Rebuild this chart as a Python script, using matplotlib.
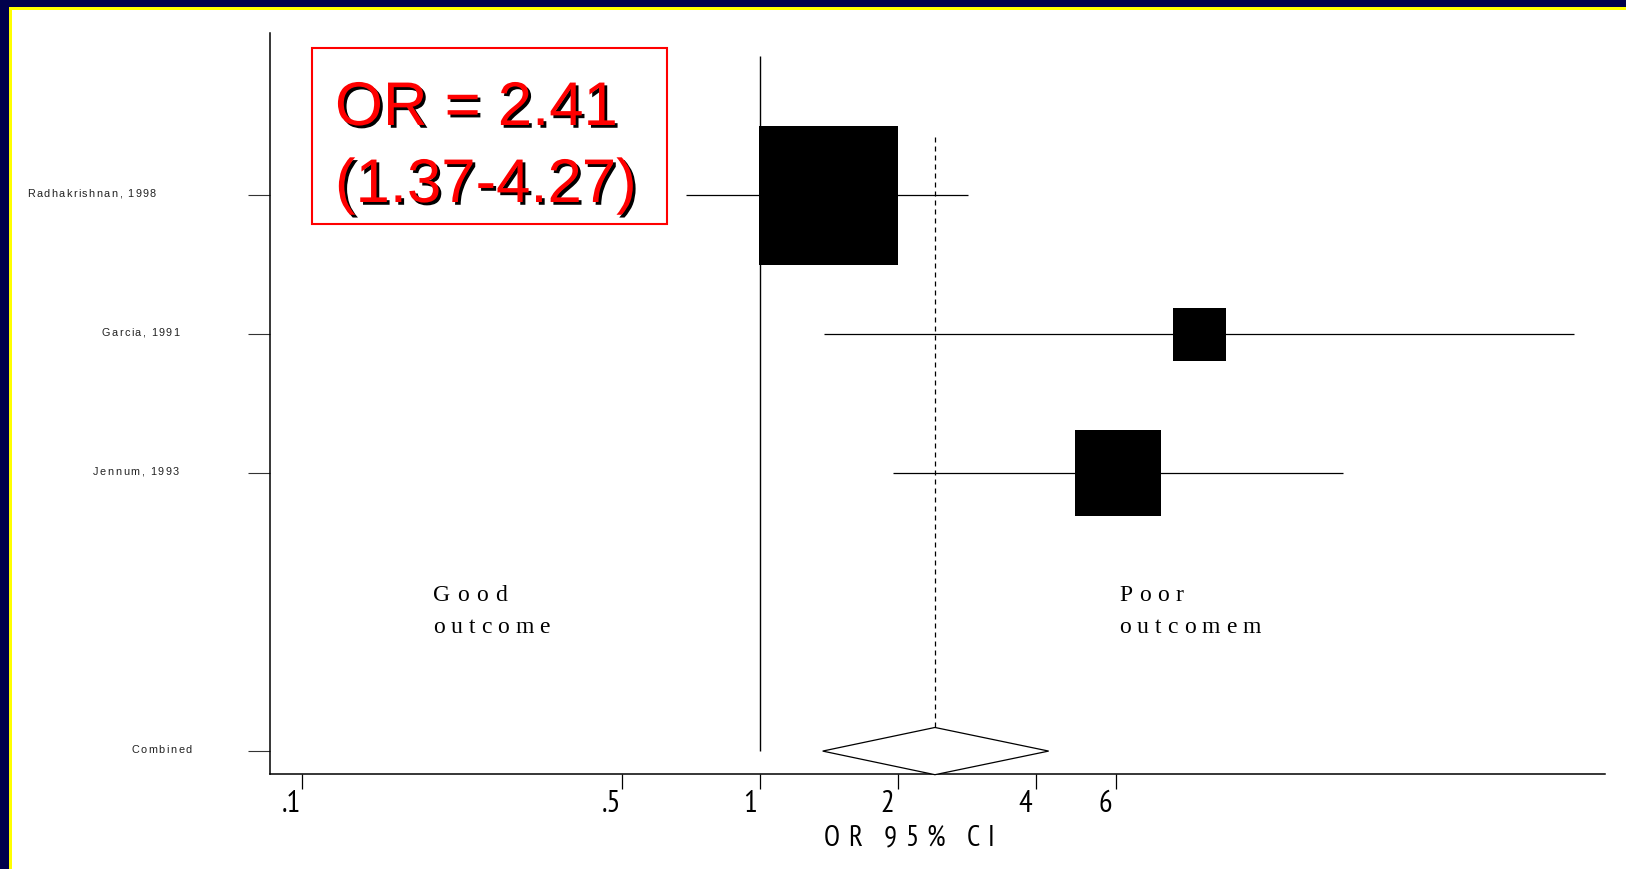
import numpy as np
import matplotlib
matplotlib.use("Agg")
import matplotlib.pyplot as plt
from matplotlib import font_manager, patches, transforms, patheffects
from matplotlib.font_manager import FontProperties
from matplotlib.ticker import NullLocator

# ---------------- data ----------------
studies = ["Radhakrishnan, 1998", "Garcia, 1991", "Jennum, 1993"]
or_est = [1.41, 9.1, 6.05]
ci_low = [0.69, 1.38, 1.95]
ci_high = [2.85, 60.0, 18.8]
weights = [65.4, 9.5, 25.1]
study_rows = [5, 4, 3]

combined_label = "Combined"
combined_or = 2.41
combined_low = 1.37
combined_high = 4.27
combined_row = 1

xticks = [0.1, 0.5, 1, 2, 4, 6]
xtick_labels = [".1", ".5", "1", "2", "4", "6"]
x_title = "OR 95% CI"
box_lines = ["OR = 2.41", "(1.37-4.27)"]

# ---------------- layout ----------------
W, H = 1626, 870
names = {f.name for f in font_manager.fontManager.ttflist}
sans = "Liberation Sans" if "Liberation Sans" in names else "DejaVu Sans"
serif = "Liberation Serif" if "Liberation Serif" in names else "DejaVu Serif"
narrow_file = None
for f in font_manager.fontManager.ttflist:
    fn = f.fname.lower()
    if ("sansnarrow-regular" in fn or "sans-narrow" in fn and "bold" not in fn
            and "italic" not in fn):
        narrow_file = f.fname
        break
if narrow_file is None:
    for f in font_manager.fontManager.ttflist:
        if f.fname.endswith("DejaVuSansCondensed.ttf"):
            narrow_file = f.fname
            break


def narrow_prop(size):
    if narrow_file:
        return FontProperties(fname=narrow_file, size=size)
    return FontProperties(family=sans, size=size)


fig = plt.figure(figsize=(W / 100, H / 100), dpi=100, facecolor="white")
ax = fig.add_axes([270 / W, 1 - 775 / H, (1605 - 270) / W, (775 - 34) / H])
ax.set_xscale("log")
ax.set_xlim(0.085, 70.1)
ax.set_ylim(0.835, 6.169)
ident = transforms.IdentityTransform()

# border
navy, yellow = "#00004C", "#FFFF00"
for r in [patches.Rectangle((0, 0), 9, H), patches.Rectangle((0, H - 8), W, 8)]:
    r.set_transform(ident); r.set_facecolor(navy); r.set_edgecolor("none")
    fig.add_artist(r)
for r in [patches.Rectangle((9, 0), 2.5, H - 8), patches.Rectangle((9, H - 10.5), W - 9, 2.5)]:
    r.set_transform(ident); r.set_facecolor(yellow); r.set_edgecolor("none")
    fig.add_artist(r)

# study CIs and boxes
ax.hlines(study_rows, ci_low, ci_high, color="black", lw=0.9, zorder=2)
side_px = 17.19 * np.sqrt(np.array(weights))
ax.scatter(or_est, study_rows, s=(side_px * 0.72) ** 2, marker="s", c="black",
           linewidths=0, zorder=3)

# null line and combined line
ax.vlines(1, combined_row, 6.0, color="black", lw=1.0, zorder=1)
ax.vlines(combined_or, combined_row + 0.17, 5.45, color="black", lw=0.9,
          linestyles=(0, (4, 3.2)), zorder=1)
ax.fill([combined_low, combined_or, combined_high, combined_or],
        [combined_row, combined_row + 0.17, combined_row, combined_row - 0.17],
        facecolor="white", edgecolor="black", lw=0.9, zorder=3, clip_on=False)

# axes styling
for s in ["top", "right"]:
    ax.spines[s].set_visible(False)
for s in ["left", "bottom"]:
    ax.spines[s].set_linewidth(1.1)
    ax.spines[s].set_color("black")
ax.set_xticks(xticks)
ax.set_xticklabels([])
ax.xaxis.set_minor_locator(NullLocator())
ax.tick_params(axis="x", length=10.8, width=0.9, direction="out")
ax.set_yticks(study_rows + [combined_row])
ax.set_yticklabels([])
ax.tick_params(axis="y", length=15.8, width=0.8, direction="out", color="#333333")

off = transforms.ScaledTranslation(-10.5 / 100, -15 / 100, fig.dpi_scale_trans)
for v, lab in zip(xticks, xtick_labels):
    ax.text(v, 0, lab, transform=ax.get_xaxis_transform() + off, ha="center", va="top",
            fontproperties=narrow_prop(22), color="black")

renderer = fig.canvas.get_renderer()


def char_widths(s, prop):
    base = renderer.get_text_width_height_descent("||", prop, ismath=False)[0]
    return [renderer.get_text_width_height_descent("|" + c + "|", prop, ismath=False)[0] - base
            for c in s]


def spaced(s, x_left, x_right, y_disp, prop, color="black"):
    ws = char_widths(s, prop)
    sp = ((x_right - x_left) - sum(ws)) / (len(s) - 1) if len(s) > 1 else 0
    x = x_left
    for c, w in zip(s, ws):
        fig.text(x, y_disp, c, transform=ident, fontproperties=prop, color=color,
                 ha="left", va="baseline")
        x += w + sp


# y labels
ylab_prop = FontProperties(family=sans, size=7.8)
label_extents = [(27, 156), (102, 179), (93, 179), (131, 192)]
for lab, row, (xl, xr) in zip(studies + [combined_label], study_rows + [combined_row], label_extents):
    yd = ax.transData.transform((1, row))[1]
    spaced(lab, xl, xr, yd - 1, ylab_prop, color="#222222")

# x title
spaced(x_title, 824, 995, H - 846, narrow_prop(21))

# outcome annotations
serif_prop = FontProperties(family=serif, size=17)
spaced("Good", 433, 507, H - 601, serif_prop)
spaced("outcome", 433, 550, H - 633, serif_prop)
spaced("Poor", 1119, 1183, H - 601, serif_prop)
spaced("outcomem", 1119, 1261, H - 633, serif_prop)

# red summary box
rect = patches.Rectangle((312, H - 225), 355, 176, transform=ident, facecolor="none",
                         edgecolor="#FF0000", lw=1.5)
fig.add_artist(rect)
pe = [patheffects.SimplePatchShadow(offset=(2, -2), shadow_rgbFace="black", alpha=1.0),
      patheffects.Normal()]
fig.text(335, H - 126, box_lines[0], transform=ident, fontsize=44.4, family=sans,
         color="#FF0000", ha="left", va="baseline", path_effects=pe)
fig.text(335, H - 203, box_lines[1], transform=ident, fontsize=44.4, family=sans,
         color="#FF0000", ha="left", va="baseline", path_effects=pe)

fig.savefig("out.png", dpi=100, facecolor="white")
